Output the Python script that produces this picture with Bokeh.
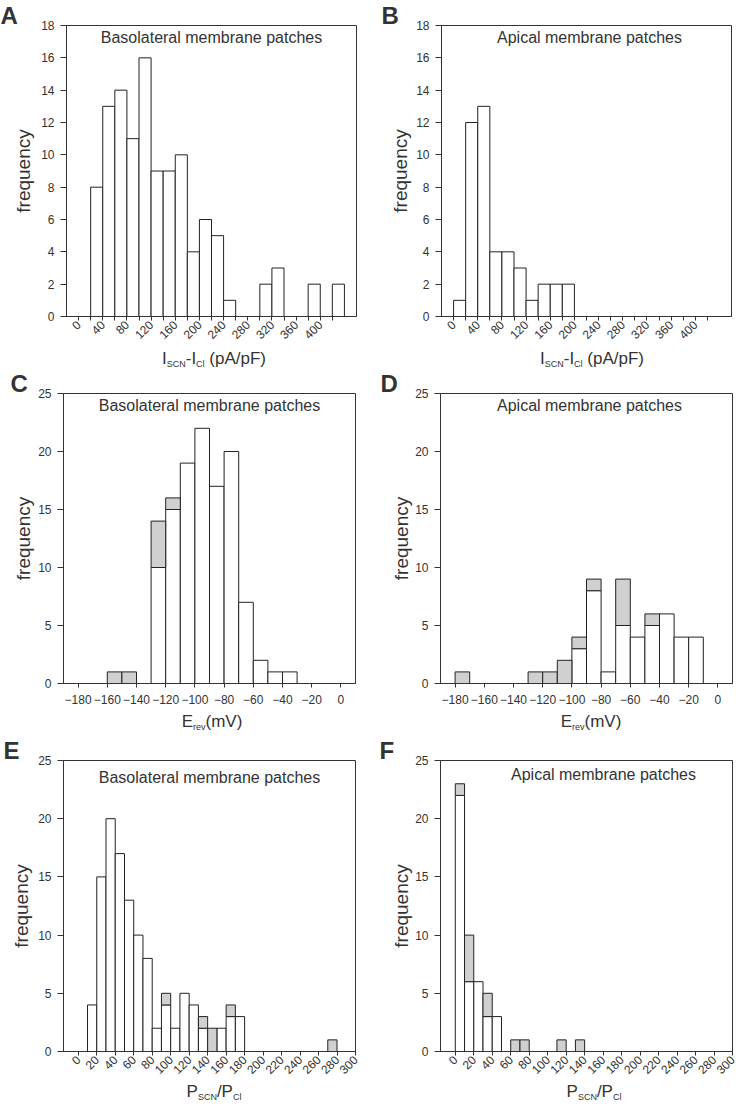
import math
from bokeh.plotting import figure
from bokeh.layouts import column, row
from bokeh.models import Label, FixedTicker, Range1d, Div
from bokeh.embed import file_html
from bokeh.resources import INLINE

FONT = "Liberation Sans"
TXT = "#333333"
GREY = "#d0d0d0"
EDGE = "#222222"

# ---------------- data ----------------
# A / B : I_SCN - I_Cl (pA/pF), bins of 20
isc_bin = 20
a_left = [20, 40, 60, 80, 100, 120, 140, 160, 180, 200, 220, 240, 300, 320, 380, 420]
a_count = [8, 13, 14, 11, 16, 9, 9, 10, 4, 6, 5, 1, 2, 3, 2, 2]
b_left = [0, 20, 40, 60, 80, 100, 120, 140, 160, 180]
b_count = [1, 12, 13, 4, 4, 3, 1, 2, 2, 2]
isc_ticks = [0, 40, 80, 120, 160, 200, 240, 280, 320, 360, 400]
isc_minor = [20, 60, 100, 140, 180, 220, 260, 300, 340, 380, 420]

# C / D : Erev (mV), bins of 10, white + grey stacked
erev_bin = 10
c_left = [-160, -150, -130, -120, -110, -100, -90, -80, -70, -60, -50, -40]
c_white = [0, 0, 10, 15, 19, 22, 17, 20, 7, 2, 1, 1]
c_grey = [1, 1, 4, 1, 0, 0, 0, 0, 0, 0, 0, 0]
d_left = [-180, -130, -120, -110, -100, -90, -80, -70, -60, -50, -40, -30, -20]
d_white = [0, 0, 0, 0, 3, 8, 1, 5, 4, 5, 6, 4, 4]
d_grey = [1, 1, 1, 2, 1, 1, 0, 4, 0, 1, 0, 0, 0]
erev_ticks = [-180, -160, -140, -120, -100, -80, -60, -40, -20, 0]

# E / F : P_SCN/P_Cl, bins of 10
p_bin = 10
e_left = [10, 20, 30, 40, 50, 60, 70, 80, 90, 100, 110, 120, 130, 140, 150, 160, 170, 270]
e_white = [4, 15, 20, 17, 13, 10, 8, 2, 4, 2, 5, 4, 2, 0, 2, 3, 3, 0]
e_grey = [0, 0, 0, 0, 0, 0, 0, 0, 1, 0, 0, 0, 1, 2, 0, 1, 0, 1]
f_left = [0, 10, 20, 30, 40, 60, 70, 110, 130]
f_white = [22, 6, 6, 3, 3, 0, 0, 0, 0]
f_grey = [1, 4, 0, 2, 0, 1, 1, 1, 1]
p_ticks = list(range(0, 301, 20))

freq_ticks_18 = [0, 2, 4, 6, 8, 10, 12, 14, 16, 18]
freq_ticks_25 = [0, 5, 10, 15, 20, 25]


def make_fig(letter, loff, fl, ft, fw, fh, fr, fb, xr, yr, ylab_standoff):
    p = figure(frame_width=fw, frame_height=fh,
               min_border_left=fl, min_border_top=ft,
               min_border_right=fr, min_border_bottom=fb,
               x_range=Range1d(*xr), y_range=Range1d(*yr),
               title=letter,
               output_backend="svg", toolbar_location=None,
               background_fill_color="white", border_fill_color="white")
    p.title.text_font = FONT
    p.title.text_font_size = "24px"
    p.title.text_font_style = "bold"
    p.title.text_color = TXT
    p.title.align = "left"
    p.title.offset = loff
    p.title.standoff = -6
    p.xgrid.visible = False
    p.ygrid.visible = False
    p.outline_line_color = "#333333"
    p.outline_line_width = 1
    for ax in (p.xaxis[0], p.yaxis[0]):
        ax.axis_line_color = "#333333"
        ax.major_tick_line_color = "#333333"
        ax.minor_tick_line_color = "#333333"
        ax.major_tick_in = 0
        ax.minor_tick_in = 0
        ax.major_label_text_font = FONT
        ax.major_label_text_font_size = "12px"
        ax.major_label_text_color = TXT
    p.yaxis.major_tick_out = 6
    p.yaxis.minor_tick_line_color = None
    p.yaxis.major_label_standoff = 6
    p.yaxis.axis_label = "frequency"
    p.yaxis.axis_label_text_font = FONT
    p.yaxis.axis_label_text_font_size = "19px"
    p.yaxis.axis_label_text_font_style = "normal"
    p.yaxis.axis_label_text_color = TXT
    p.yaxis.axis_label_standoff = ylab_standoff
    p.xaxis.major_tick_out = 4
    p.xaxis.minor_tick_out = 4
    return p


def bars(p, left, bottom, top, width, color):
    l2, b2, t2, r2 = [], [], [], []
    for x, b, t in zip(left, bottom, top):
        if t > b:
            l2.append(x)
            r2.append(x + width)
            b2.append(b)
            t2.append(t)
    p.quad(left=l2, right=r2, bottom=b2, top=t2, fill_color=color,
           line_color=EDGE, line_width=1)


def subtitle(p, s, yoff, dx=0):
    xc = (p.x_range.start + p.x_range.end) / 2.0
    p.add_layout(Label(x=xc, y=p.y_range.end, x_offset=dx, y_offset=yoff, text=s,
                       text_font=FONT, text_font_size="16px", text_color=TXT,
                       text_align="center", text_baseline="alphabetic"))


def sub(s):
    return f'<span style="font-size:9px;position:relative;top:3px;">{s}</span>'


ISC_T = "I" + sub("SCN") + "-I" + sub("Cl") + " (pA/pF)"
EREV_T = "E" + sub("rev") + "(mV)"
P_T = "P" + sub("SCN") + "/P" + sub("Cl")


def title_row(height, top, items):
    spans = "".join(
        f'<span style="position:absolute;left:{cx}px;top:{top}px;transform:translateX(-50%);'
        f'white-space:nowrap;font-size:17px;line-height:20px;">{t}</span>'
        for cx, t in items)
    html = (f'<div style="position:relative;width:743px;height:{height}px;'
            f"font-family:'Liberation Sans',Arial,sans-serif;color:{TXT};\">{spans}</div>")
    return Div(text=html, width=743, height=height, margin=0)


# ---- row 1 ----
pA = make_fig("A", -66, 66, 25, 290, 291, 16, 32, (-20, 460), (0, 18), 4)
pB = make_fig("B", -60, 69, 25, 290, 291, 12, 32, (-20, 460), (0, 18), 2)
for p in (pA, pB):
    p.xaxis.ticker = FixedTicker(ticks=isc_ticks, minor_ticks=isc_minor)
    p.xaxis.major_label_orientation = math.pi / 4
    p.xaxis.major_label_standoff = 2
    p.yaxis.ticker = FixedTicker(ticks=freq_ticks_18, minor_ticks=[])
bars(pA, a_left, [0] * len(a_left), a_count, isc_bin, "white")
bars(pB, b_left, [0] * len(b_left), b_count, isc_bin, "white")
subtitle(pA, "Basolateral membrane patches", -12)
subtitle(pB, "Apical membrane patches", -12, 3)
t1 = title_row(20, 1, [(214, ISC_T), (592, ISC_T)])

# ---- row 2 ----
pC = make_fig("C", -53, 63, 25, 292, 290, 17, 29, (-190, 10), (0, 25), 1)
pD = make_fig("D", -60, 68, 25, 292, 290, 11, 29, (-190, 10), (0, 25), 0)
for p in (pC, pD):
    p.xaxis.ticker = FixedTicker(ticks=erev_ticks, minor_ticks=[])
    p.xaxis.major_label_standoff = 7
    p.yaxis.ticker = FixedTicker(ticks=freq_ticks_25, minor_ticks=[])
bars(pC, c_left, [0] * len(c_left), c_white, erev_bin, "white")
bars(pC, c_left, c_white, [w + g for w, g in zip(c_white, c_grey)], erev_bin, GREY)
bars(pD, d_left, [0] * len(d_left), d_white, erev_bin, "white")
bars(pD, d_left, d_white, [w + g for w, g in zip(d_white, d_grey)], erev_bin, GREY)
subtitle(pC, "Basolateral membrane patches", -12)
subtitle(pD, "Apical membrane patches", -12, 3)
t2 = title_row(23, 0, [(212, EREV_T), (591, EREV_T)])

# ---- row 3 ----
pE = make_fig("E", -60, 63, 25, 292, 291, 17, 30, (-16, 300), (0, 25), 3)
pF = make_fig("F", -61, 68, 25, 292, 291, 11, 30, (-16, 300), (0, 25), 0)
for p in (pE, pF):
    p.xaxis.ticker = FixedTicker(ticks=p_ticks, minor_ticks=[])
    p.xaxis.major_label_orientation = math.pi / 4
    p.xaxis.major_label_standoff = 2
    p.yaxis.ticker = FixedTicker(ticks=freq_ticks_25, minor_ticks=[])
bars(pE, e_left, [0] * len(e_left), e_white, p_bin, "white")
bars(pE, e_left, e_white, [w + g for w, g in zip(e_white, e_grey)], p_bin, GREY)
bars(pF, f_left, [0] * len(f_left), f_white, p_bin, "white")
bars(pF, f_left, f_white, [w + g for w, g in zip(f_white, f_grey)], p_bin, GREY)
subtitle(pE, "Basolateral membrane patches", -17)
subtitle(pF, "Apical membrane patches", -14, 17)
t3 = title_row(25, 1, [(214, P_T), (594, P_T)])

layout = column(row(pA, pB), t1, row(pC, pD), t2, row(pE, pF), t3)

open("out.html", "w").write(file_html(layout, INLINE))
